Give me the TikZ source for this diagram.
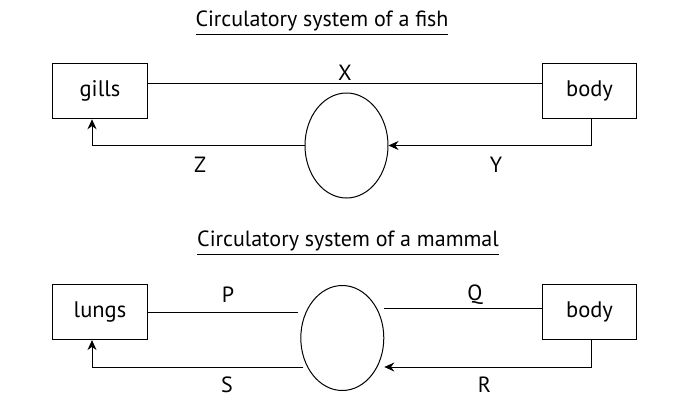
\documentclass[tikz,border=0pt]{standalone}
\usepackage{fontspec}
\setmainfont{PT Sans}
\usetikzlibrary{arrows.meta,positioning,shapes.geometric}
\tikzset{
  organ/.style={draw=black,line width=1.1pt,minimum width=94.6pt,
                minimum height=55pt,inner sep=0pt,font=\fontsize{22.5}{26}\selectfont},
  heart/.style={draw=black,ellipse,line width=1pt,minimum width=83pt,
                minimum height=105pt,inner sep=0pt},
  tag/.style={inner sep=0pt,font=\fontsize{22}{26}\selectfont},
  heading/.style={inner sep=0pt,font=\fontsize{22}{26}\selectfont},
  vessel/.style={draw=black,line width=1pt},
  flow/.style={vessel,-{Stealth[length=10pt,width=9pt]}}
}
\begin{document}
\begin{tikzpicture}[x=1pt,y=-1pt]
  \useasboundingbox (0,0) rectangle (690,407);
  % fish: single circuit
  \node[heading] (fishtitle) at (322,23)
    {\underline{Circulatory system of a fish\rule[-6.5pt]{0pt}{0pt}}};
  \node[organ] (gills) at (100,91.2) {gills};
  \node[organ] (body1) at (589.5,91.2) {body};
  \node[heart] (heart1) at (346.5,145.5) {};
  \draw[vessel] ([yshift=7.7pt]gills.east) -- ([yshift=7.7pt]body1.west);
  \draw[flow] ([xshift=2pt]body1.south) |- (heart1.east);
  \draw[flow] (heart1.west) -| ([xshift=-8pt]gills.south);
  \node[tag] (lx) at (345,72.5) {X};
  \node[tag] (lz) at (200,165) {Z};
  \node[tag] (ly) at (496,165) {Y};

  % mammal: double circuit
  \node[heading] (mammaltitle) at (348,243)
    {\underline{Circulatory system of a mammal\rule[-6.5pt]{0pt}{0pt}}};
  \node[organ] (lungs) at (100,312) {lungs};
  \node[organ] (body2) at (589.5,312) {body};
  \node[heart] (heart2) at (342.3,338) {};
  \draw[vessel] (lungs.east) -- ([xshift=-2pt,yshift=26pt]heart2.west);
  \draw[vessel] ([yshift=30pt]heart2.east) -- ([yshift=30pt]heart2.east -| body2.west);
  \draw[flow] ([xshift=2pt]body2.south) |- ([yshift=-29pt]heart2.east);
  \draw[flow] ([xshift=3pt,yshift=-29pt]heart2.west) -| ([xshift=-8pt]lungs.south);
  \node[tag] (lp) at (228,295) {P};
  \node[tag] (lq) at (475,295) {Q};
  \node[tag] (ls) at (227,385) {S};
  \node[tag] (lr) at (484.5,385) {R};
\end{tikzpicture}
\end{document}
